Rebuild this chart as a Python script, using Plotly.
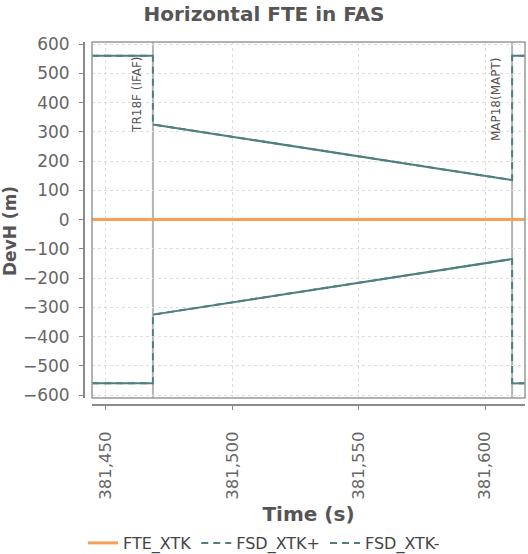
import plotly.graph_objects as go

# ---- data ----
fte_time = [381444.5, 381615.8]
fte_xtk = [0, 0]

fsd_time = [381444.5, 381468.6, 381468.6, 381610.7, 381610.7, 381615.8]
fsd_xtk_plus = [560, 560, 325, 135, 560, 560]
fsd_xtk_minus = [-560, -560, -325, -135, -560, -560]

marker_times = [381468.6, 381610.7]
marker_labels = ["TR18F (IFAF)", "MAP18(MAPT)"]

x_ticks = [381450, 381500, 381550, 381600]
y_ticks = [600, 500, 400, 300, 200, 100, 0, -100, -200, -300, -400, -500, -600]

FONT = "DejaVu Sans"
TEAL = "#4f7f80"
ORANGE = "#f7a056"


def non_jump_segments(ts, vs):
    """Segments of the series between samples at different times (jumps excluded)."""
    xs, ys = [], []
    for i in range(len(ts) - 1):
        if ts[i + 1] != ts[i]:
            xs += [ts[i], ts[i + 1], None]
            ys += [vs[i], vs[i + 1], None]
    return xs, ys


fig = go.Figure()
fig.add_trace(go.Scatter(x=fte_time, y=fte_xtk, mode="lines", name="FTE_XTK",
                         line=dict(color=ORANGE, width=3)))
for name, vals in [("FSD_XTK+", fsd_xtk_plus), ("FSD_XTK-", fsd_xtk_minus)]:
    fig.add_trace(go.Scatter(x=fsd_time, y=vals, mode="lines", name=name,
                             line=dict(color=TEAL, width=2, dash="7px,5px")))
    sx, sy = non_jump_segments(fsd_time, vals)
    fig.add_trace(go.Scatter(x=sx, y=sy, mode="lines", showlegend=False, hoverinfo="skip",
                             line=dict(color=TEAL, width=2)))

W, H = 528, 554
ml, mr, mt, mb = 84, 3, 42, 149
pw = W - ml - mr
ph = H - mt - mb

# markers
for t, lab in zip(marker_times, marker_labels):
    fig.add_shape(type="line", xref="x", yref="y domain", x0=t, x1=t, y0=0, y1=1,
                  line=dict(color="#b4b4b4", width=2), layer="below")
    fig.add_annotation(x=t, y=1, xref="x", yref="y domain", text=lab, textangle=-90,
                       showarrow=False, xanchor="right", yanchor="top", xshift=-7, yshift=-13,
                       font=dict(family=FONT, size=12, color="#555555"))

# y axis title (placed where the reference has it)
fig.add_annotation(x=(10 - ml) / pw, y=(H - mb - 231) / ph, xref="paper", yref="paper",
                   text="<b>DevH (m)</b>", textangle=-90, showarrow=False,
                   xanchor="center", yanchor="middle",
                   font=dict(family=FONT, size=17, color="#555555"))

# plot border
fig.add_shape(type="rect", xref="x domain", yref="y domain", x0=0, x1=1, y0=0, y1=1,
              line=dict(color="#999999", width=1.5), layer="above")

fig.update_layout(
    width=W, height=H,
    margin=dict(l=ml, r=mr, t=mt, b=mb, autoexpand=False),
    paper_bgcolor="white", plot_bgcolor="white",
    font=dict(family=FONT, color="#666666"),
    title=dict(text="<b>Horizontal FTE in FAS</b>", x=0.5, xref="container", xanchor="center",
               y=1 - 14 / H, yref="container", yanchor="middle",
               font=dict(family=FONT, size=20, color="#555555")),
    showlegend=True,
    legend=dict(orientation="h", xref="container", yref="container", x=0.5, xanchor="center",
                y=1 - 543 / H, yanchor="middle", font=dict(family=FONT, size=16, color="#444444"),
                itemwidth=30, tracegroupgap=0),
    xaxis=dict(domain=[8 / pw, 1], anchor="free", position=0, automargin=False,
               range=[381444.5, 381615.8], tickvals=x_ticks, tickformat=",d",
               tickangle=-90, tickfont=dict(family=FONT, size=16.5, color="#666666"),
               ticks="outside", ticklen=4, tickcolor="#888888", ticklabelstandoff=15,
               showline=True, linecolor="#8a8a8a", linewidth=2,
               showgrid=True, gridcolor="#dedede", griddash="3px,3px", gridwidth=1,
               zeroline=False,
               title=dict(text="<b>Time (s)</b>", font=dict(family=FONT, size=20, color="#555555"),
                          standoff=10)),
    yaxis=dict(domain=[7 / ph, 1], anchor="free", position=0, automargin=False,
               range=[-610, 607], tickvals=y_ticks,
               tickfont=dict(family=FONT, size=17, color="#666666"),
               ticks="outside", ticklen=4, tickcolor="#888888", ticklabelstandoff=6,
               showline=True, linecolor="#8a8a8a", linewidth=2,
               showgrid=True, gridcolor="#dedede", griddash="3px,3px", gridwidth=1,
               zeroline=False),
)

fig.write_html("out.html", config={"displayModeBar": False},
               post_script="document.body.style.margin='0';")
